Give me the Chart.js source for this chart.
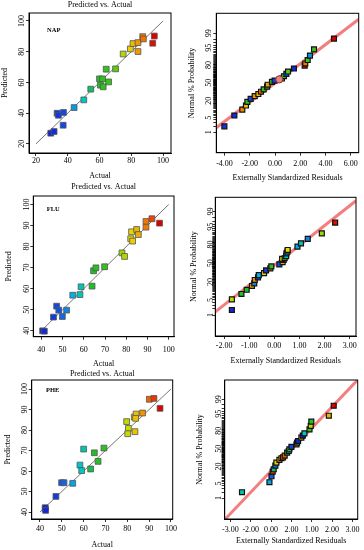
<!DOCTYPE html>
<html><head><meta charset="utf-8">
<script src="https://cdn.jsdelivr.net/npm/chart.js@4/dist/chart.umd.min.js"></script>
<style>
html,body{margin:0;padding:0;background:#fff;width:364px;height:550px;overflow:hidden;position:relative;}
canvas{position:absolute;}
</style></head><body>
<canvas id="c1"></canvas><canvas id="c2"></canvas><canvas id="c3"></canvas>
<canvas id="c4"></canvas><canvas id="c5"></canvas><canvas id="c6"></canvas>
<script>
// ---------- DATA ----------
// NAP: predicted vs actual
const napActual    = [29.3,31.4,33.3,34.1,37.3,37.1,44.0,50.1,54.5,60.0,61.9,60.6,62.3,65.7,64.2,70.1,74.9,79.4,81.1,84.2,84.2,87.2,87.6,94.5,93.5];
const napPredicted = [26.9,28.0,39.9,38.6,40.4,32.1,43.6,48.6,55.6,62.3,62.3,58.2,57.1,60.3,68.6,68.8,78.5,81.8,85.3,85.9,80.1,89.8,88.3,90.2,85.5];
const napDiag = [20, 100];
const napTicks = [20, 40, 60, 80, 100];
// NAP: normal plot of residuals
const napResid     = [-4.01,-3.22,-2.59,-2.30,-2.19,-1.93,-1.61,-1.32,-1.11,-0.90,-0.63,-0.58,-0.24,-0.03,0.55,0.71,0.90,1.03,1.50,2.35,2.40,2.59,2.77,3.09,4.67];
const napNormScore = [-2.05,-1.54,-1.26,-1.07,-0.90,-0.76,-0.63,-0.53,-0.42,-0.31,-0.18,-0.09,0.04,0.10,0.20,0.31,0.42,0.53,0.67,0.81,0.91,1.07,1.28,1.57,2.08];
const napResidResp = [33,31,86,80,62,37,85,81,88,61,65,84,60,36,64,62,38,70,30,94,87,68,44,66,95];
const napFlagResid = [0.34];
const napFlagNorm  = [0.16];
const napLineMean = 0.02, napLineSd = 2.21;
const napResidTicks = [-4, -2, 0, 2, 4, 6];

// FLU
const fluActual    = [40.6,41.4,45.7,47.2,48.2,49.9,51.9,54.8,58.2,58.7,63.9,64.6,65.7,69.8,78.0,79.2,82.1,82.5,83.0,84.9,85.7,89.3,89.3,92.1,95.7];
const fluPredicted = [40.0,39.8,46.5,51.7,49.8,46.8,49.8,56.9,57.2,60.9,61.2,68.5,69.9,70.4,77.0,75.3,83.7,87.0,82.6,88.1,85.7,91.9,89.2,93.2,91.1];
const fluDiag = [40, 100];
const fluTicks = [40, 50, 60, 70, 80, 90, 100];
const fluResid     = [-1.69,-1.69,-1.31,-1.10,-0.89,-0.80,-0.78,-0.65,-0.62,-0.41,-0.33,-0.16,-0.12,0.20,0.33,0.37,0.31,0.41,0.47,0.48,0.52,0.53,0.92,1.06,1.33,1.89,2.42];
const fluNormScore = [-2.10,-1.62,-1.38,-1.19,-1.02,-0.90,-0.75,-0.63,-0.53,-0.44,-0.32,-0.23,-0.14,-0.05,0.05,0.15,0.20,0.23,0.32,0.45,0.53,0.60,0.75,0.90,1.10,1.35,1.83];
const fluResidResp = [41,80,65,64,86,52,88,47,55,82,46,89,66,48,86,89,83,64,58,50,70,82,54,59,52,78,95];
const fluLineMean = 0.10, fluLineSd = 1.12;
const fluResidTicks = [-2, -1, 0, 1, 2, 3];

// PHE
const pheActual    = [42.4,42.4,42.6,47.3,49.9,51.0,55.0,58.3,59.1,60.0,63.2,64.9,66.6,69.3,79.7,80.5,80.2,83.5,83.2,84.0,83.8,87.0,90.1,92.2,95.0];
const phePredicted = [41.5,42.1,40.8,47.6,54.3,54.3,54.0,62.9,60.2,70.7,61.0,68.9,64.7,71.2,84.1,80.8,78.2,79.2,86.3,87.8,85.7,88.3,95.0,95.4,90.6];
const pheDiag = [40, 100];
const pheTicks = [40, 50, 60, 70, 80, 90, 100];
const pheResid     = [-2.43,-1.08,-0.98,-0.92,-0.87,-0.79,-0.74,-0.59,-0.49,-0.41,-0.33,-0.21,-0.13,-0.10,0.00,0.25,0.28,0.33,0.49,0.56,0.64,0.89,0.95,0.98,1.84,2.08];
const pheNormScore = [-2.05,-1.58,-1.30,-1.08,-0.97,-0.80,-0.66,-0.53,-0.45,-0.41,-0.33,-0.19,-0.11,-0.03,0.08,0.20,0.28,0.36,0.52,0.61,0.72,0.91,1.07,1.27,1.55,2.02];
const pheResidResp = [60,55,50,92,63,51,81,86,83,87,91,67,58,69,48,88,65,43,84,42,59,70,80,66,85,96];
const pheLineMean = 0.04, pheLineSd = 0.995;
const pheResidTicks = [-3, -2, -1, 0, 1, 2, 3];
const pheResidTickLabels = ["-3.00","-2.00","0.00","2.00","1.00","2.00","3.00"];

// normal probability axis labels (%)
const probLabels = [1, 5, 20, 50, 80, 95, 99];
const probMinor = Array.from({length: 99}, (_, i) => i + 1);

// ---------- HELPERS ----------
const FONT = '"Liberation Serif", "Times New Roman", serif';
Chart.defaults.font.family = FONT;
Chart.defaults.color = '#000';

function probit(p) {
  const a=[-3.969683028665376e+01,2.209460984245205e+02,-2.759285104469687e+02,1.383577518672690e+02,-3.066479806614716e+01,2.506628277459239e+00];
  const b=[-5.447609879822406e+01,1.615858368580409e+02,-1.556989798598866e+02,6.680131188771972e+01,-1.328068155288572e+01];
  const c=[-7.784894002430293e-03,-3.223964580411365e-01,-2.400758277161838e+00,-2.549732539343734e+00,4.374664141464968e+00,2.938163982698783e+00];
  const d=[7.784695709041462e-03,3.224671290700398e-01,2.445134137142996e+00,3.754408661907416e+00];
  const pl=0.02425, ph=1-pl; let q,r;
  if (p<pl){q=Math.sqrt(-2*Math.log(p));return (((((c[0]*q+c[1])*q+c[2])*q+c[3])*q+c[4])*q+c[5])/((((d[0]*q+d[1])*q+d[2])*q+d[3])*q+1);}
  if (p<=ph){q=p-0.5;r=q*q;return (((((a[0]*r+a[1])*r+a[2])*r+a[3])*r+a[4])*r+a[5])*q/(((((b[0]*r+b[1])*r+b[2])*r+b[3])*r+b[4])*r+1);}
  q=Math.sqrt(-2*Math.log(1-p));return -(((((c[0]*q+c[1])*q+c[2])*q+c[3])*q+c[4])*q+c[5])/((((d[0]*q+d[1])*q+d[2])*q+d[3])*q+1);
}

const STOPS = [
  [0.00,[20,40,210]],[0.10,[20,60,225]],[0.18,[20,110,230]],[0.25,[0,175,230]],
  [0.31,[0,200,200]],[0.36,[0,195,140]],[0.42,[30,190,40]],[0.60,[60,200,20]],
  [0.68,[160,215,0]],[0.75,[230,220,0]],[0.82,[240,170,0]],[0.90,[240,110,0]],
  [0.95,[235,50,0]],[1.00,[220,0,0]]];
function rampColor(v, lo, hi) {
  let t = (v - lo) / (hi - lo); t = Math.max(0, Math.min(1, t));
  for (let i = 1; i < STOPS.length; i++) {
    if (t <= STOPS[i][0]) {
      const [t0, c0] = STOPS[i-1], [t1, c1] = STOPS[i];
      const f = (t - t0) / (t1 - t0 || 1);
      const c = c0.map((x, k) => Math.round(x + (c1[k] - x) * f));
      return `rgb(${c[0]},${c[1]},${c[2]})`;
    }
  }
  return 'rgb(220,0,0)';
}

function pvaSets(act, pred, diag) {
  const lo = Math.min(...act), hi = Math.max(...act);
  return [
    {data: act.map((a, i) => ({x: a, y: pred[i]})), pointStyle: 'rect', pointRadius: 4.1,
     backgroundColor: act.map(v => rampColor(v, lo, hi)), borderColor: '#555', borderWidth: 0.8, order: 1},
    {data: diag.map(v => ({x: v, y: v})), showLine: true, pointRadius: 0, borderColor: '#666', borderWidth: 0.9, order: 2}
  ];
}
function residSets(res, ns, resp, act, mean, sd, xMin, xMax) {
  const lo = Math.min(...act), hi = Math.max(...act);
  return [
    {data: res.map((r, i) => ({x: r, y: ns[i]})), pointStyle: 'rect', pointRadius: 3.5,
     backgroundColor: resp.map(v => rampColor(v, lo, hi)), borderColor: '#111', borderWidth: 1.2, order: 1},
    {data: [xMin, xMax].map(x => ({x, y: (x - mean) / sd})), showLine: true, pointRadius: 0,
     borderColor: 'rgba(242,112,112,0.9)', borderWidth: 3, order: 3}
  ];
}

function makePanel(cfg) {
  const cv = document.getElementById(cfg.id);
  const R = cfg.rect, B = cfg.box;
  cv.width = R.w; cv.height = R.h;
  cv.style.left = R.x + 'px'; cv.style.top = R.y + 'px';
  cv.style.width = R.w + 'px'; cv.style.height = R.h + 'px';
  const bl = B.l - R.x, bt = B.t - R.y, br = B.r - R.x, bb = B.b - R.y;
  const TL = 3, FS = 8;
  const m = document.createElement('canvas').getContext('2d');
  m.font = `${FS}px ${FONT}`;
  const widest = Math.max(...cfg.yTickLabels.map(s => m.measureText(s).width));
  const yTickPad = (bl - (cfg.yTickCx - R.x)) - TL - widest / 2;
  const xTickPad = (cfg.xTickCy - R.y) - bb - TL - FS / 2;
  const xTitlePadB = R.h - (cfg.xTitleCy - R.y) - FS / 2;
  const yTitlePadT = (cfg.yTitleCx - R.x) - FS / 2;
  const xMap = new Map(cfg.xTicks.map((v, i) => [v.toFixed(5), cfg.xTickLabels[i]]));
  const yMap = new Map(cfg.yTicks.map((v, i) => [v.toFixed(5), cfg.yTickLabels[i]]));
  const yAll = cfg.yTicks.concat(cfg.yMinor || []).sort((a, b) => a - b);
  const grid = {drawOnChartArea: false, drawTicks: true, tickLength: TL, color: '#000', lineWidth: 0.8};
  const border = {display: true, color: '#000', width: 1};
  const deco = {
    id: 'deco',
    afterDraw(chart) {
      const {ctx, chartArea: a} = chart;
      ctx.save();
      ctx.strokeStyle = '#000'; ctx.lineWidth = 1;
      ctx.strokeRect(a.left, a.top, a.right - a.left, a.bottom - a.top);
      ctx.fillStyle = '#000'; ctx.textAlign = 'center'; ctx.textBaseline = 'middle';
      if (cfg.titleText) { ctx.font = `${FS}px ${FONT}`; ctx.fillText(cfg.titleText, (a.left + a.right) / 2, cfg.titleCy - R.y); }
      if (cfg.note) { ctx.font = `bold 6.5px ${FONT}`; ctx.fillText(cfg.note, a.left + cfg.noteDx, a.top + cfg.noteDy); }
      ctx.restore();
    }
  };
  new Chart(cv, {
    type: 'scatter',
    data: {datasets: cfg.datasets},
    options: {
      responsive: false, animation: false, devicePixelRatio: 1,
      layout: {padding: {left: 0, top: bt, right: R.w - br, bottom: 0}},
      plugins: {legend: {display: false}, tooltip: {enabled: false}},
      scales: {
        x: {
          type: 'linear', min: cfg.xMin, max: cfg.xMax,
          afterBuildTicks: s => { s.ticks = cfg.xTicks.map(v => ({value: v})); },
          afterFit: s => { s.height = R.h - bb; },
          ticks: {autoSkip: false, minRotation: 0, maxRotation: 0, padding: xTickPad,
                  font: {size: FS, lineHeight: 1}, color: '#000',
                  callback: v => xMap.get(Number(v).toFixed(5)) ?? ''},
          grid, border,
          title: {display: true, text: cfg.xTitle, font: {size: FS, lineHeight: 1}, color: '#000', padding: {top: 0, bottom: xTitlePadB}}
        },
        y: {
          type: 'linear', min: cfg.yMin, max: cfg.yMax,
          afterBuildTicks: s => { s.ticks = yAll.map(v => ({value: v})); },
          afterFit: s => { s.width = bl; },
          ticks: {autoSkip: false, minRotation: 90, maxRotation: 90, crossAlign: 'center', padding: yTickPad,
                  font: {size: FS, lineHeight: 1}, color: '#000',
                  callback: v => yMap.get(Number(v).toFixed(5)) ?? ''},
          grid, border,
          title: {display: true, text: cfg.yTitle, font: {size: FS, lineHeight: 1}, color: '#000', padding: {top: yTitlePadT, bottom: 0}}
        }
      }
    },
    plugins: [deco]
  });
}

const probVals = probLabels.map(p => probit(p / 100));
const probMinorVals = probMinor.filter(p => !probLabels.includes(p)).map(p => probit(p / 100));
const fmt2 = v => v.toFixed(2);

// ---------- PANELS ----------
// 1: NAP predicted vs actual
makePanel({
  id: 'c1', rect: {x: 0, y: 0, w: 182, h: 182}, box: {l: 29, t: 13, r: 171, b: 153},
  xMin: 15.6, xMax: 105, yMin: 14, yMax: 105.2,
  xTicks: napTicks, xTickLabels: napTicks.map(String), yTicks: napTicks, yTickLabels: napTicks.map(String),
  xTitle: 'Actual', yTitle: 'Predicted', titleText: 'Predicted vs. Actual', titleCy: 5,
  xTickCy: 160.7, xTitleCy: 176, yTitleCx: 5, yTickCx: 21.7,
  note: 'NAP', noteDx: 24.7, noteDy: 17,
  datasets: pvaSets(napActual, napPredicted, napDiag)
});
// 2: NAP normal plot
(function(){
  const xMin = -4.65, xMax = 6.63;
  const ds = residSets(napResid, napNormScore, napResidResp, napActual, napLineMean, napLineSd, xMin, xMax);
  ds.push({data: napFlagResid.map((r, i) => ({x: r, y: napFlagNorm[i]})), pointStyle: 'circle', pointRadius: 3.6,
           backgroundColor: '#ee8080', borderColor: '#803030', borderWidth: 1, order: 0});
  makePanel({
    id: 'c2', rect: {x: 182, y: 0, w: 182, h: 184}, box: {l: 216.3, t: 13.3, r: 358.7, b: 152.7},
    xMin, xMax, yMin: -3.29, yMax: 3.27,
    xTicks: napResidTicks, xTickLabels: napResidTicks.map(fmt2),
    yTicks: probVals, yTickLabels: probLabels.map(String), yMinor: probMinorVals,
    xTitle: 'Externally Standardized Residuals', yTitle: 'Normal % Probability',
    xTickCy: 164, xTitleCy: 178, yTitleCx: 192, yTickCx: 208.7,
    datasets: ds
  });
})();
// 3: FLU predicted vs actual
makePanel({
  id: 'c3', rect: {x: 0, y: 180, w: 182, h: 188}, box: {l: 33.3, t: 196, r: 174, b: 336.7},
  xMin: 36.2, xMax: 102.5, yMin: 37.2, yMax: 104,
  xTicks: fluTicks, xTickLabels: fluTicks.map(String), yTicks: fluTicks, yTickLabels: fluTicks.map(String),
  xTitle: 'Actual', yTitle: 'Predicted', titleText: 'Predicted vs. Actual', titleCy: 187.3,
  xTickCy: 350, xTitleCy: 364, yTitleCx: 9.3, yTickCx: 26.7,
  note: 'FLU', noteDx: 20, noteDy: 13.3,
  datasets: pvaSets(fluActual, fluPredicted, fluDiag)
});
// 4: FLU normal plot
(function(){
  const xMin = -2.35, xMax = 3.25;
  makePanel({
    id: 'c4', rect: {x: 182, y: 182, w: 182, h: 184}, box: {l: 215.3, t: 197.3, r: 356, b: 336},
    xMin, xMax, yMin: -3.27, yMax: 2.97,
    xTicks: fluResidTicks, xTickLabels: fluResidTicks.map(fmt2),
    yTicks: probVals, yTickLabels: probLabels.map(String), yMinor: probMinorVals,
    xTitle: 'Externally Standardized Residuals', yTitle: 'Normal % Probability',
    xTickCy: 346, xTitleCy: 361, yTitleCx: 193.7, yTickCx: 211.3,
    datasets: residSets(fluResid, fluNormScore, fluResidResp, fluActual, fluLineMean, fluLineSd, xMin, xMax)
  });
})();
// 5: PHE predicted vs actual
makePanel({
  id: 'c5', rect: {x: 0, y: 366, w: 182, h: 184}, box: {l: 31.7, t: 380, r: 172.7, b: 519},
  xMin: 36.2, xMax: 100.8, yMin: 36.6, yMax: 104.4,
  xTicks: pheTicks, xTickLabels: pheTicks.map(String), yTicks: pheTicks, yTickLabels: pheTicks.map(String),
  xTitle: 'Actual', yTitle: 'Predicted', titleText: 'Predicted vs. Actual', titleCy: 374.3,
  xTickCy: 529.3, xTitleCy: 545, yTitleCx: 8.3, yTickCx: 25,
  note: 'PHE', noteDx: 21, noteDy: 10,
  datasets: pvaSets(pheActual, phePredicted, pheDiag)
});
// 6: PHE normal plot
(function(){
  const xMin = -3.28, xMax = 3.26;
  makePanel({
    id: 'c6', rect: {x: 182, y: 366, w: 182, h: 184}, box: {l: 224.7, t: 380, r: 357.7, b: 519},
    xMin, xMax, yMin: -3.31, yMax: 3.23,
    xTicks: pheResidTicks, xTickLabels: pheResidTickLabels,
    yTicks: probVals, yTickLabels: probLabels.map(String), yMinor: probMinorVals,
    xTitle: 'Externally Standardized Residuals', yTitle: 'Normal % Probability',
    xTickCy: 530, xTitleCy: 541, yTitleCx: 200.3, yTickCx: 218.7,
    datasets: residSets(pheResid, pheNormScore, pheResidResp, pheActual, pheLineMean, pheLineSd, xMin, xMax)
  });
})();
</script>
</body></html>
